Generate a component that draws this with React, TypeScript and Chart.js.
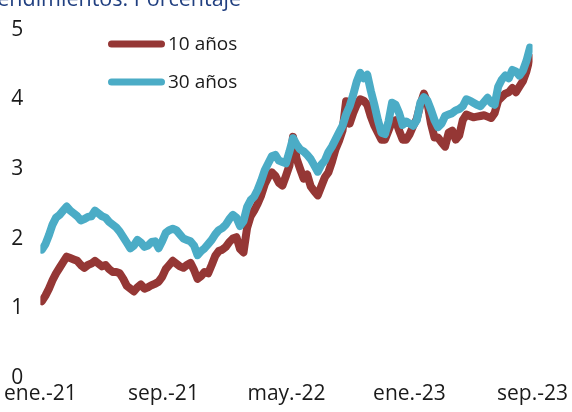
import React, { useEffect, useRef } from "react";
import { Chart, registerables } from "chart.js";

Chart.register(...registerables);

const xTickLabels = ["ene.-21", "sep.-21", "may.-22", "ene.-23", "sep.-23"];
const seriesNames = ["10 años", "30 años"];

// weekly observations, first week ≈ start of the axis
const yield10 = [
  1.10, 1.18, 1.28, 1.40, 1.50, 1.58, 1.66, 1.74, 1.72, 1.70,
  1.68, 1.62, 1.58, 1.62, 1.64, 1.68, 1.64, 1.60, 1.62, 1.56,
  1.52, 1.52, 1.50, 1.42, 1.32, 1.28, 1.24, 1.30, 1.34, 1.28,
  1.30, 1.33, 1.35, 1.38, 1.45, 1.56, 1.62, 1.68, 1.64, 1.60,
  1.58, 1.62, 1.65, 1.55, 1.42, 1.46, 1.52, 1.50, 1.62, 1.75,
  1.82, 1.84, 1.88, 1.95, 2.00, 2.02, 1.85, 1.80, 2.15, 2.32,
  2.40, 2.50, 2.62, 2.78, 2.88, 2.95, 2.90, 2.80, 2.76, 2.90,
  3.05, 3.46, 3.15, 3.00, 2.86, 2.92, 2.75, 2.68, 2.62, 2.75,
  2.88, 2.95, 3.10, 3.28, 3.40, 3.55, 3.97, 3.65, 3.80, 3.92,
  4.00, 3.98, 3.92, 3.75, 3.62, 3.52, 3.42, 3.42, 3.55, 3.68,
  3.70, 3.55, 3.42, 3.42, 3.50, 3.62, 3.72, 3.92, 4.08, 3.95,
  3.65, 3.45, 3.45, 3.38, 3.32, 3.52, 3.55, 3.42, 3.48, 3.70,
  3.78, 3.76, 3.74, 3.75, 3.76, 3.77, 3.75, 3.73, 3.80, 3.98,
  4.03, 4.08, 4.10, 4.16, 4.10, 4.18, 4.26, 4.40, 4.60,
];

const yield30 = [
  1.84, 1.92, 2.05, 2.20, 2.30, 2.34, 2.40, 2.46, 2.40, 2.36,
  2.32, 2.26, 2.28, 2.31, 2.32, 2.40, 2.36, 2.32, 2.30, 2.24,
  2.20, 2.16, 2.10, 2.02, 1.94, 1.86, 1.90, 1.98, 1.94, 1.88,
  1.90, 1.95, 1.96, 1.86, 1.96, 2.08, 2.12, 2.14, 2.12, 2.06,
  2.00, 1.98, 1.96, 1.90, 1.76, 1.82, 1.86, 1.92, 1.98, 2.06,
  2.12, 2.15, 2.20, 2.28, 2.34, 2.30, 2.18, 2.25, 2.45, 2.55,
  2.60, 2.70, 2.83, 2.98, 3.08, 3.18, 3.20, 3.12, 3.10, 3.08,
  3.25, 3.44, 3.35, 3.28, 3.25, 3.20, 3.14, 3.05, 2.96, 3.06,
  3.12, 3.24, 3.32, 3.42, 3.52, 3.62, 3.78, 3.90, 4.06, 4.25,
  4.38, 4.30, 4.35, 4.12, 3.92, 3.70, 3.52, 3.50, 3.68, 3.95,
  3.92, 3.80, 3.63, 3.68, 3.65, 3.62, 3.70, 3.95, 4.03, 3.98,
  3.85, 3.70, 3.60, 3.65, 3.76, 3.78, 3.80, 3.84, 3.86, 3.90,
  4.00, 3.98, 3.95, 3.92, 3.90, 3.96, 4.02, 3.95, 3.92, 4.18,
  4.28, 4.34, 4.30, 4.42, 4.40, 4.34, 4.41, 4.55, 4.74,
];

const startMonth = 0.1;
const weekInMonths = 7 / 30.44;

const toPoints = (arr: number[]) =>
  arr.map((v, i) => ({ x: startMonth + i * weekInMonths, y: v }));

const FONT = '"Open Sans", "Noto Sans", sans-serif';

const legendPlugin = {
  id: "stackedLegend",
  afterDraw(chart: any) {
    const ctx = chart.ctx as CanvasRenderingContext2D;
    const order = [0, 1];
    order.forEach((idx, k) => {
      const ds = chart.data.datasets[idx];
      const y = 44 + k * 38;
      ctx.save();
      ctx.strokeStyle = ds.borderColor;
      ctx.lineWidth = 7;
      ctx.lineCap = "round";
      ctx.beginPath();
      ctx.moveTo(111.5, y);
      ctx.lineTo(161.5, y);
      ctx.stroke();
      ctx.fillStyle = "#1a1a1a";
      ctx.font = `19px ${FONT}`;
      ctx.textBaseline = "middle";
      ctx.textAlign = "left";
      ctx.fillText(ds.label, 168, y + 1);
      ctx.restore();
    });
  },
};

export default function App() {
  const canvasRef = useRef<HTMLCanvasElement | null>(null);

  useEffect(() => {
    document.body.style.margin = "0";
    const canvas = canvasRef.current;
    if (!canvas) return;
    const chart = new Chart(canvas, {
      type: "line",
      data: {
        datasets: [
          {
            label: seriesNames[0],
            data: toPoints(yield10),
            borderColor: "#953735",
            backgroundColor: "#953735",
            borderWidth: 8,
            pointRadius: 0,
            borderCapStyle: "round",
            borderJoinStyle: "round",
            tension: 0,
            order: 1,
          },
          {
            label: seriesNames[1],
            data: toPoints(yield30),
            borderColor: "#4BACC6",
            backgroundColor: "#4BACC6",
            borderWidth: 8,
            pointRadius: 0,
            borderCapStyle: "round",
            borderJoinStyle: "round",
            tension: 0,
            order: 0,
          },
        ],
      },
      options: {
        responsive: false,
        animation: false,
        layout: { padding: { top: 27, bottom: 1, left: 0, right: -4 } },
        plugins: {
          legend: { display: false },
          tooltip: { enabled: false },
          title: { display: false },
        },
        scales: {
          x: {
            type: "linear",
            min: 0,
            max: 32,
            grid: { display: false, drawTicks: false },
            border: { display: false },
            ticks: {
              stepSize: 8,
              autoSkip: false,
              maxRotation: 0,
              padding: 4,
              color: "#1a1a1a",
              font: { family: FONT, size: 21 },
              callback: (v: any) => xTickLabels[Math.round(Number(v) / 8)] ?? "",
            },
          },
          y: {
            min: 0,
            max: 5,
            grid: { display: false, drawTicks: false },
            border: { display: false },
            afterFit: (s: any) => {
              s.width = 40;
            },
            ticks: {
              stepSize: 1,
              padding: 17,
              color: "#1a1a1a",
              font: { family: FONT, size: 21 },
            },
          },
        },
      },
      plugins: [legendPlugin],
    });
    return () => chart.destroy();
  }, []);

  return (
    <div
      style={{
        position: "fixed",
        left: 0,
        top: 0,
        width: 572,
        height: 412,
        overflow: "hidden",
        background: "#ffffff",
      }}
    >
      <canvas ref={canvasRef} width={572} height={412} style={{ display: "block" }} />
      <div
        style={{
          position: "absolute",
          left: -16,
          top: -13,
          fontFamily: FONT,
          fontSize: 21.5,
          lineHeight: 1,
          color: "#203F80",
          whiteSpace: "nowrap",
        }}
      >
        Rendimientos. Porcentaje
      </div>
    </div>
  );
}
